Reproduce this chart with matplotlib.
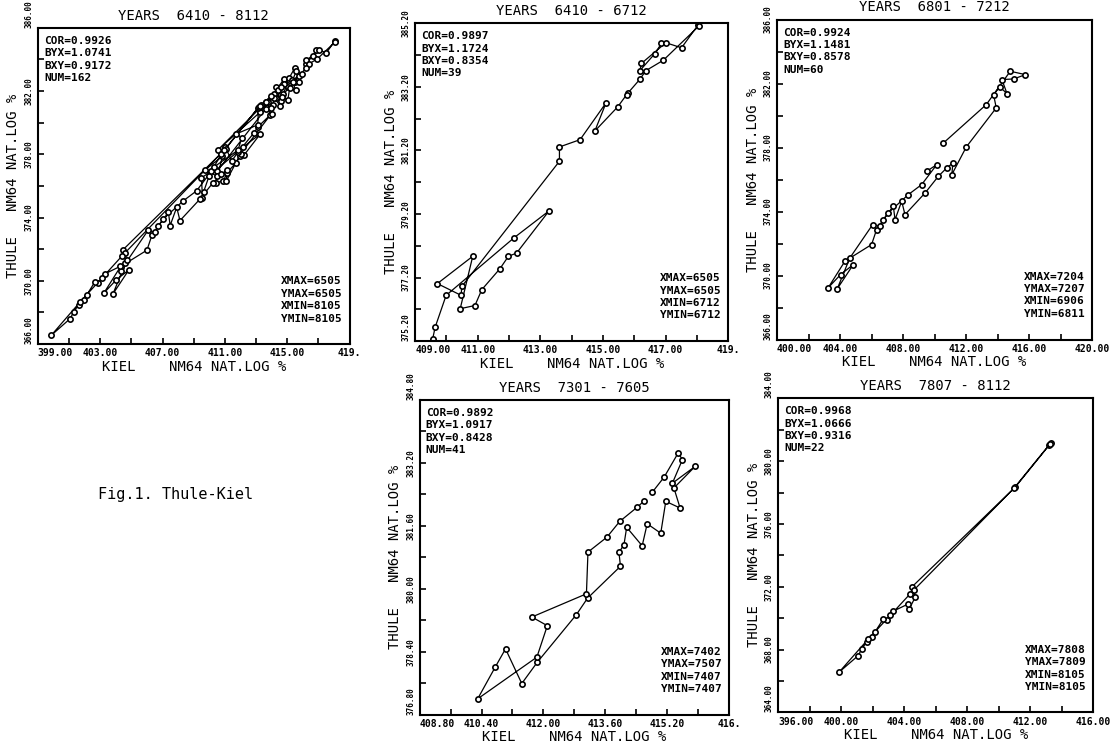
import matplotlib
matplotlib.use('Agg')
import matplotlib.pyplot as plt
from matplotlib.ticker import AutoMinorLocator

plt.rcParams['font.family'] = 'DejaVu Sans Mono'
plt.rcParams['font.weight'] = 'bold'

# monthly values, Kiel (x) and Thule (y), NM64 nat.log %
x_6410 = [416.87, 416.66, 416.18, 416.23, 417.01, 417.51, 418.04, 418.07, 416.93, 416.37,
          416.18, 415.81, 415.76, 415.47, 414.74, 415.10, 414.27, 413.61, 413.61, 410.49,
          410.47, 409.71, 410.84, 410.44, 410.91, 411.13, 411.71, 411.98, 412.24, 413.28,
          412.17, 409.99, 409.64, 409.56]
y_6410 = [384.57, 384.25, 383.71, 383.94, 384.59, 384.43, 385.15, 385.12, 384.04, 383.71,
          383.44, 383.02, 382.96, 382.57, 381.81, 382.70, 381.54, 381.31, 380.86, 376.92,
          376.64, 377.01, 377.87, 376.22, 376.32, 376.82, 377.48, 377.87, 377.97, 379.30,
          378.46, 376.64, 375.64, 375.27]

x_6801 = [409.50, 410.14, 409.18, 408.33, 407.06, 406.32, 406.00, 404.31, 403.24, 404.03,
          404.84, 403.82, 404.62, 406.07, 406.53, 406.74, 407.38, 407.49, 407.91, 408.12,
          409.40, 410.24, 410.77, 411.16, 411.09, 412.01, 413.91, 413.74, 414.13, 414.59,
          414.27, 415.02, 415.76, 414.80, 413.28, 410.56]
y_6801 = [376.52, 376.94, 375.69, 375.06, 373.92, 372.88, 371.94, 370.90, 369.23, 370.06,
          370.69, 369.17, 371.10, 373.19, 373.08, 373.50, 374.33, 373.50, 374.65, 373.81,
          375.17, 376.21, 376.73, 377.04, 376.31, 378.04, 380.48, 381.31, 381.79, 381.38,
          382.25, 382.29, 382.56, 382.77, 380.69, 378.29]

x_7301 = [414.81, 415.12, 415.48, 415.59, 415.33, 415.92, 415.37, 415.53, 415.16, 415.03,
          414.68, 414.55, 414.15, 414.08, 413.95, 413.99, 413.14, 412.85, 411.84, 411.44,
          411.02, 410.75, 410.30, 411.83, 412.10, 411.70, 413.11, 413.15, 413.64, 413.97,
          414.42, 414.60]
y_7301 = [382.45, 382.84, 383.45, 383.28, 382.68, 383.11, 382.56, 382.05, 382.22, 381.41,
          381.65, 381.09, 381.56, 381.12, 380.92, 380.57, 379.76, 379.34, 378.13, 377.59,
          378.47, 378.00, 377.20, 378.26, 379.06, 379.28, 379.87, 380.93, 381.31, 381.71,
          382.07, 382.23]

x_7807 = [413.18, 413.29, 411.06, 404.48, 404.59, 404.70, 404.33, 404.27, 403.32, 402.89,
          402.68, 401.94, 402.15, 401.62, 401.30, 401.09, 399.86, 401.73, 403.11, 404.38,
          410.95, 413.24]
y_7807 = [381.02, 381.13, 378.36, 371.98, 371.77, 371.34, 370.60, 370.91, 370.45, 369.85,
          369.96, 368.79, 369.11, 368.47, 368.04, 367.62, 366.55, 368.68, 370.17, 371.55,
          378.26, 381.09]

x_all = x_6410 + x_6801 + x_7301 + x_7807
y_all = y_6410 + y_6801 + y_7301 + y_7807

titles = ['YEARS  6410 - 8112', 'YEARS  6410 - 6712', 'YEARS  6801 - 7212',
          'YEARS  7301 - 7605', 'YEARS  7807 - 8112']
stats = [['COR=0.9926', 'BYX=1.0741', 'BXY=0.9172', 'NUM=162'],
         ['COR=0.9897', 'BYX=1.1724', 'BXY=0.8354', 'NUM=39'],
         ['COR=0.9924', 'BYX=1.1481', 'BXY=0.8578', 'NUM=60'],
         ['COR=0.9892', 'BYX=1.0917', 'BXY=0.8428', 'NUM=41'],
         ['COR=0.9968', 'BYX=1.0666', 'BXY=0.9316', 'NUM=22']]
extremes = [['XMAX=6505', 'YMAX=6505', 'XMIN=8105', 'YMIN=8105'],
            ['XMAX=6505', 'YMAX=6505', 'XMIN=6712', 'YMIN=6712'],
            ['XMAX=7204', 'YMAX=7207', 'XMIN=6906', 'YMIN=6811'],
            ['XMAX=7402', 'YMAX=7507', 'XMIN=7407', 'YMIN=7407'],
            ['XMAX=7808', 'YMAX=7809', 'XMIN=8105', 'YMIN=8105']]

xticks = [[399, 403, 407, 411, 415, 419],
          [409, 411, 413, 415, 417, 419],
          [400, 404, 408, 412, 416, 420],
          [408.8, 410.4, 412.0, 413.6, 415.2, 416.8],
          [396, 400, 404, 408, 412, 416]]
xticklabels = [['399.00', '403.00', '407.00', '411.00', '415.00', '419.'],
               ['409.00', '411.00', '413.00', '415.00', '417.00', '419.'],
               ['400.00', '404.00', '408.00', '412.00', '416.00', '420.00'],
               ['408.80', '410.40', '412.00', '413.60', '415.20', '416.'],
               ['396.00', '400.00', '404.00', '408.00', '412.00', '416.00']]
yticks = [[366, 370, 374, 378, 382, 386],
          [375.2, 377.2, 379.2, 381.2, 383.2, 385.2],
          [366, 370, 374, 378, 382, 386],
          [376.8, 378.4, 380.0, 381.6, 383.2, 384.8],
          [364, 368, 372, 376, 380, 384]]
yticklabels = [['366.00', '370.00', '374.00', '378.00', '382.00', '386.00'],
               ['375.20', '377.20', '379.20', '381.20', '383.20', '385.20'],
               ['366.00', '370.00', '374.00', '378.00', '382.00', '386.00'],
               ['376.80', '378.40', '380.00', '381.60', '383.20', '384.80'],
               ['364.00', '368.00', '372.00', '376.00', '380.00', '384.00']]

series = [(x_all, y_all), (x_6410, y_6410), (x_6801, y_6801), (x_7301, y_7301), (x_7807, y_7807)]

# axes boxes in figure fractions
boxes = [[0.034, 0.543, 0.281, 0.420],
         [0.374, 0.547, 0.282, 0.422],
         [0.700, 0.549, 0.284, 0.425],
         [0.378, 0.051, 0.279, 0.418],
         [0.701, 0.054, 0.284, 0.417]]

fig = plt.figure(figsize=(11.1, 7.53), dpi=100)

for i in range(5):
    ax = fig.add_axes(boxes[i])
    xs, ys = series[i]
    ax.plot(xs, ys, color='black', lw=0.9, marker='o', markersize=3.8,
            markerfacecolor='white', markeredgecolor='black', markeredgewidth=1.2)
    ax.set_xlim(xticks[i][0], xticks[i][-1])
    ax.set_ylim(yticks[i][0], yticks[i][-1])
    ax.set_xticks(xticks[i])
    xl = ax.set_xticklabels(xticklabels[i], fontsize=7)
    xl[0].set_ha('left')
    ax.set_yticks(yticks[i])
    yl = ax.set_yticklabels(yticklabels[i], fontsize=5.5, rotation=90, va='center')
    yl[0].set_va('bottom')
    # top label sits above the box unless it would run off the sheet
    top_px = (1 - boxes[i][1] - boxes[i][3]) * 753
    yl[-1].set_va('bottom' if top_px > 26 else 'center')
    ax.xaxis.set_minor_locator(AutoMinorLocator(2))
    ax.yaxis.set_minor_locator(AutoMinorLocator(2))
    ax.tick_params(which='both', direction='in', length=4, width=1.2, pad=3)
    for s in ax.spines.values():
        s.set_linewidth(1.5)
    ax.set_title(titles[i], fontsize=10, pad=6)
    ax.set_xlabel('KIEL    NM64 NAT.LOG %', fontsize=10, labelpad=1)
    ax.set_ylabel('THULE   NM64 NAT.LOG %', fontsize=10, labelpad=3)
    ax.text(0.02, 0.975, '\n'.join(stats[i]), transform=ax.transAxes, fontsize=8,
            va='top', ha='left', linespacing=1.3)
    ax.text(0.975, 0.065, '\n'.join(extremes[i]), transform=ax.transAxes, fontsize=8,
            va='bottom', ha='right', linespacing=1.3)

fig.text(0.158, 0.343, 'Fig.1. Thule-Kiel', fontsize=11, fontweight='normal', ha='center', va='center')

fig.savefig('out.png', dpi=100)
